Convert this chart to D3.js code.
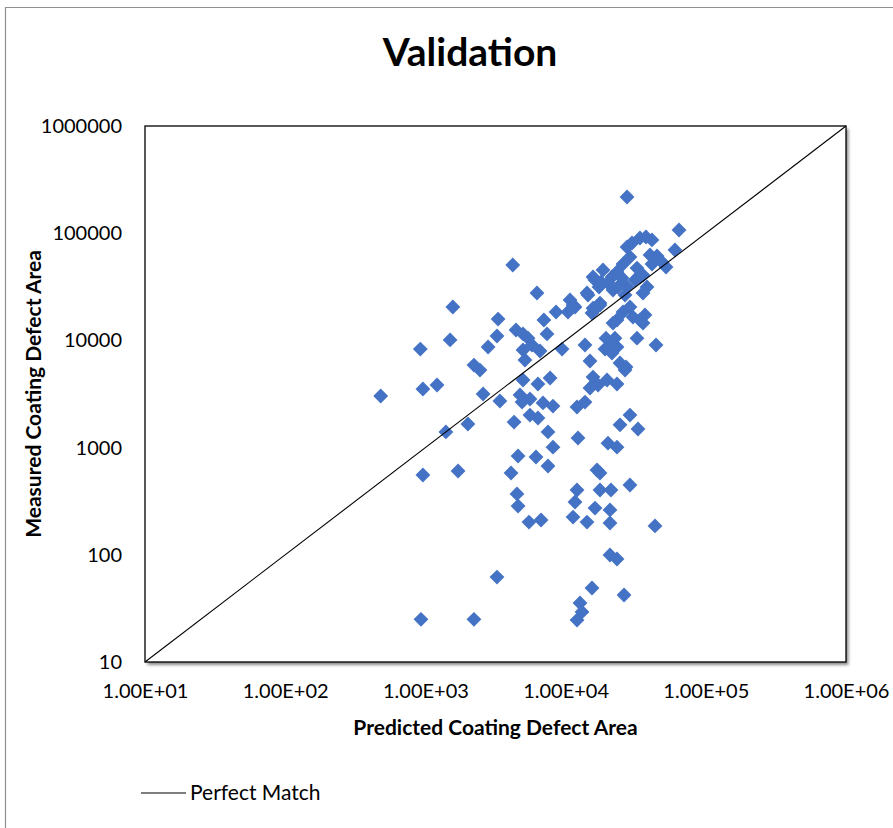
<!DOCTYPE html>
<html>
<head>
<meta charset="utf-8">
<script src="https://cdn.jsdelivr.net/npm/d3@7"></script>
<style>
  html, body { margin: 0; padding: 0; background: #fff; }
  svg { display: block; font-family: Lato, "Open Sans", sans-serif; }
</style>
</head>
<body>
<svg id="chart" width="893" height="828"></svg>
<script>
// Predicted vs. measured coating defect area (both in the same units)
const predicted = [
  480, 920, 960, 1210, 1570, 1500, 1400, 1710, 960, 930,
  2220, 2010, 2220, 2450, 2580, 2800, 3300, 3400, 3240, 4200,
  4080, 3240, 4290, 4580, 4500, 4580, 6250, 4430, 4970, 5400,
  5760, 4970, 5130, 7000, 7370, 6570, 8550, 10750, 11670, 9430,
  14450, 16210, 17310, 16750, 13750, 14930, 18480, 21420, 23260, 20060,
  21780, 19410, 22500, 20730, 23260, 19100, 21420, 23260, 25680, 24440,
  26980, 28780, 30250, 33930, 36840, 35650, 32300, 44150, 27430, 31260,
  33930, 25680, 28780, 32300, 27430, 29760, 33930, 37450, 41320, 27430,
  64400, 60260, 39990, 44880, 48700, 52030, 41320, 35650, 38070, 35650,
  25250, 23650, 26540, 15690, 17880, 14210, 17590, 11300, 10400, 15690,
  17590, 15430, 21780, 4970, 6350, 7750, 4730, 5570, 4890, 6900,
  8130, 5570, 6350, 7490, 8130, 6150, 7490, 5480, 6680, 12060,
  13750, 15690, 17030, 19740, 14930, 23260, 26540, 28780, 24440, 32840,
  12260, 20060, 23260, 16750, 17590, 28780, 12060, 17590, 21070, 11670,
  16210, 20730, 11300, 14210, 20730, 43420, 20730, 23260, 15430, 26110,
  12670, 13090, 12060
];
const measured = [
  3030, 8300, 3520, 3840, 20500, 10100, 1400, 605, 555, 25,
  25, 1660, 5890, 5290, 3160, 8680, 15800, 2720, 62, 50500,
  580, 11000, 1730, 835, 370, 285, 27700, 12500, 11500, 10500,
  9060, 8140, 6560, 15500, 11500, 7960, 18400, 23800, 20500, 8300,
  26500, 36600, 31500, 20500, 9060, 6420, 45400, 39000, 43500, 34300,
  29500, 10500, 10500, 8680, 8680, 8300, 7630, 15500, 18400, 6150,
  5650, 20500, 16500, 15500, 17300, 14500, 10500, 9060, 31500, 36600,
  39000, 51600, 60000, 47300, 74300, 81000, 90200, 92200, 86500, 217700,
  107100, 69700, 62600, 61300, 53800, 48400, 51600, 40700, 31500, 27700,
  38200, 31500, 26500, 39000, 35100, 27700, 22300, 21400, 18400, 20000,
  21400, 18000, 14500, 4270, 3920, 4460, 3100, 2840, 2660, 2610,
  2440, 2010, 1890, 1400, 1010, 817, 674, 202, 211, 2390,
  2660, 4550, 3840, 4270, 3600, 3920, 5290, 2010, 1630, 1490,
  1230, 1100, 1010, 618, 580, 448, 402, 402, 402, 311,
  273, 262, 225, 202, 198, 186, 99.6, 91.4, 49, 42.2,
  35.5, 29.3, 24.6
];

// "Perfect Match" reference line endpoints
const matchX = [10, 1000000];
const matchY = [10, 1000000];

// Axis tick values
const xTicks = [1e1, 1e2, 1e3, 1e4, 1e5, 1e6];
const yTicks = [1e1, 1e2, 1e3, 1e4, 1e5, 1e6];
const xTickLabels = ["1.00E+01", "1.00E+02", "1.00E+03", "1.00E+04", "1.00E+05", "1.00E+06"];
const yTickLabels = ["10", "100", "1000", "10000", "100000", "1000000"];

const svg = d3.select("#chart");
const plot = { left: 145, right: 846, top: 126, bottom: 662 };

const x = d3.scaleLog().domain([10, 1e6]).range([plot.left, plot.right]);
const y = d3.scaleLog().domain([10, 1e6]).range([plot.bottom, plot.top]);

// Chart-area frame (top and left edges visible in the canvas)
svg.append("path")
  .attr("d", "M5.5,828 V7.5 H893")
  .attr("fill", "none")
  .attr("stroke", "#8f8f8f")
  .attr("stroke-width", 1.2);

// Soft drop shadow under the plot area
const defs = svg.append("defs");
const f = defs.append("filter").attr("id", "shadow")
  .attr("x", "-5%").attr("y", "-5%").attr("width", "110%").attr("height", "110%");
f.append("feDropShadow")
  .attr("dx", 2.5).attr("dy", 3).attr("stdDeviation", 1.8)
  .attr("flood-color", "#000").attr("flood-opacity", 0.45);

svg.append("rect")
  .attr("x", plot.left).attr("y", plot.top)
  .attr("width", plot.right - plot.left).attr("height", plot.bottom - plot.top)
  .attr("fill", "#fff")
  .attr("filter", "url(#shadow)");

// Scatter markers: diamonds
const diamond = d3.symbol().type(d3.symbolSquare).size(110);
const pts = predicted.map((p, i) => ({ p, m: measured[i] }));
svg.append("g")
  .selectAll("path")
  .data(pts)
  .join("path")
  .attr("d", diamond)
  .attr("transform", d => `translate(${x(d.p)},${y(d.m)}) rotate(45)`)
  .attr("fill", "#4472C4");

// Perfect match line
const line = d3.line().x(d => x(d[0])).y(d => y(d[1]));
svg.append("path")
  .datum(matchX.map((v, i) => [v, matchY[i]]))
  .attr("d", line)
  .attr("fill", "none")
  .attr("stroke", "#000")
  .attr("stroke-width", 1.1);

// Plot-area border
svg.append("rect")
  .attr("x", plot.left).attr("y", plot.top)
  .attr("width", plot.right - plot.left).attr("height", plot.bottom - plot.top)
  .attr("fill", "none")
  .attr("stroke", "#000")
  .attr("stroke-width", 1.3);

// Axes
const xAxis = d3.axisBottom(x).tickValues(xTicks)
  .tickFormat((d, i) => xTickLabels[i]).tickSize(0).tickPadding(22);
const gx = svg.append("g").attr("transform", `translate(0,${plot.bottom})`).call(xAxis);
gx.select(".domain").remove();
gx.selectAll("text").attr("font-family", "Lato, sans-serif").attr("font-size", 20).attr("fill", "#000");

const yAxis = d3.axisLeft(y).tickValues(yTicks)
  .tickFormat((d, i) => yTickLabels[i]).tickSize(0).tickPadding(23);
const gy = svg.append("g").attr("transform", `translate(${plot.left},0)`).call(yAxis);
gy.select(".domain").remove();
gy.selectAll("text").attr("font-family", "Lato, sans-serif").attr("font-size", 20).attr("fill", "#000");

// Title
svg.append("text")
  .attr("x", 470).attr("y", 66)
  .attr("text-anchor", "middle")
  .attr("font-size", 39).attr("font-weight", "bold")
  .text("Validation");

// Axis titles
svg.append("text")
  .attr("x", (plot.left + plot.right) / 2).attr("y", 735)
  .attr("text-anchor", "middle")
  .attr("font-size", 21).attr("font-weight", "bold")
  .text("Predicted Coating Defect Area");

svg.append("text")
  .attr("transform", `translate(41,${(plot.top + plot.bottom) / 2}) rotate(-90)`)
  .attr("text-anchor", "middle")
  .attr("font-size", 21).attr("font-weight", "bold")
  .text("Measured Coating Defect Area");

// Legend
svg.append("line")
  .attr("x1", 141).attr("x2", 186).attr("y1", 793).attr("y2", 793)
  .attr("stroke", "#000").attr("stroke-width", 1.2);
svg.append("text")
  .attr("x", 190).attr("y", 800)
  .attr("font-size", 21)
  .text("Perfect Match");
</script>
</body>
</html>
